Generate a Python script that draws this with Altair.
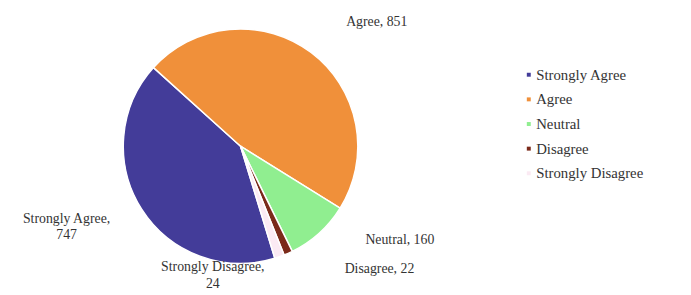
import math
import altair as alt
import pandas as pd

categories = ["Strongly Agree", "Agree", "Neutral", "Disagree", "Strongly Disagree"]
counts = [747, 851, 160, 22, 24]
labels = ["Strongly Agree,\n747", "Agree, 851", "Neutral, 160", "Disagree, 22", "Strongly Disagree,\n24"]
colors = ["#433C99", "#F0903A", "#90EE90", "#7B2A1A", "#FBEAF3"]

# label offsets (style / placement only)
label_dx = [-50, 48, 61, 80, -78]
label_dy = [-7, -6, -16, -12, -19]

df = pd.DataFrame({
    "category": categories,
    "count": counts,
    "label": labels,
    "order": list(range(len(categories))),
})

start = math.radians(163)
theta_scale = alt.Scale(domain=[0, 1], range=[start, start + 2 * math.pi])
cx, cy = 231, 122
FONT = "Liberation Serif"

base = alt.Chart(df)

arcs = base.mark_arc(outerRadius=119, stroke="white", strokeWidth=1.5).encode(
    theta=alt.Theta("count:Q", stack="normalize", scale=theta_scale),
    order=alt.Order("order:Q"),
    color=alt.Color(
        "category:N",
        scale=alt.Scale(domain=categories, range=colors),
        legend=alt.Legend(
            title=None,
            orient="none",
            legendX=516,
            legendY=42,
            symbolType="square",
            symbolSize=16,
            symbolStrokeWidth=0,
            labelFont=FONT,
            labelFontSize=15,
            labelColor="#333333",
            rowPadding=9,
            labelOffset=0,
        ),
    ),
    x=alt.value(cx),
    y=alt.value(cy),
)

layers = [arcs]
for cat, dx, dy in zip(categories, label_dx, label_dy):
    t = (
        base.transform_joinaggregate(total="sum(count)")
        .transform_window(cum="sum(count)", sort=[alt.SortField("order")], frame=[None, 0])
        .transform_calculate(mid="(datum.cum - datum.count / 2) / datum.total")
        .transform_filter(alt.datum.category == cat)
        .mark_text(
            radius=150,
            dx=dx,
            dy=dy,
            font=FONT,
            fontSize=14,
            lineHeight=17,
            lineBreak="\n",
            color="#333333",
            align="center",
            baseline="middle",
        )
        .encode(
            theta=alt.Theta("mid:Q", stack=None, scale=theta_scale),
            text="label:N",
            x=alt.value(cx),
            y=alt.value(cy),
        )
    )
    layers.append(t)

chart = (
    alt.layer(*layers)
    .properties(width=675, height=279, background="white")
    .configure_view(stroke=None)
)

chart.save("out.html", embed_options={"renderer": "svg", "actions": False})
